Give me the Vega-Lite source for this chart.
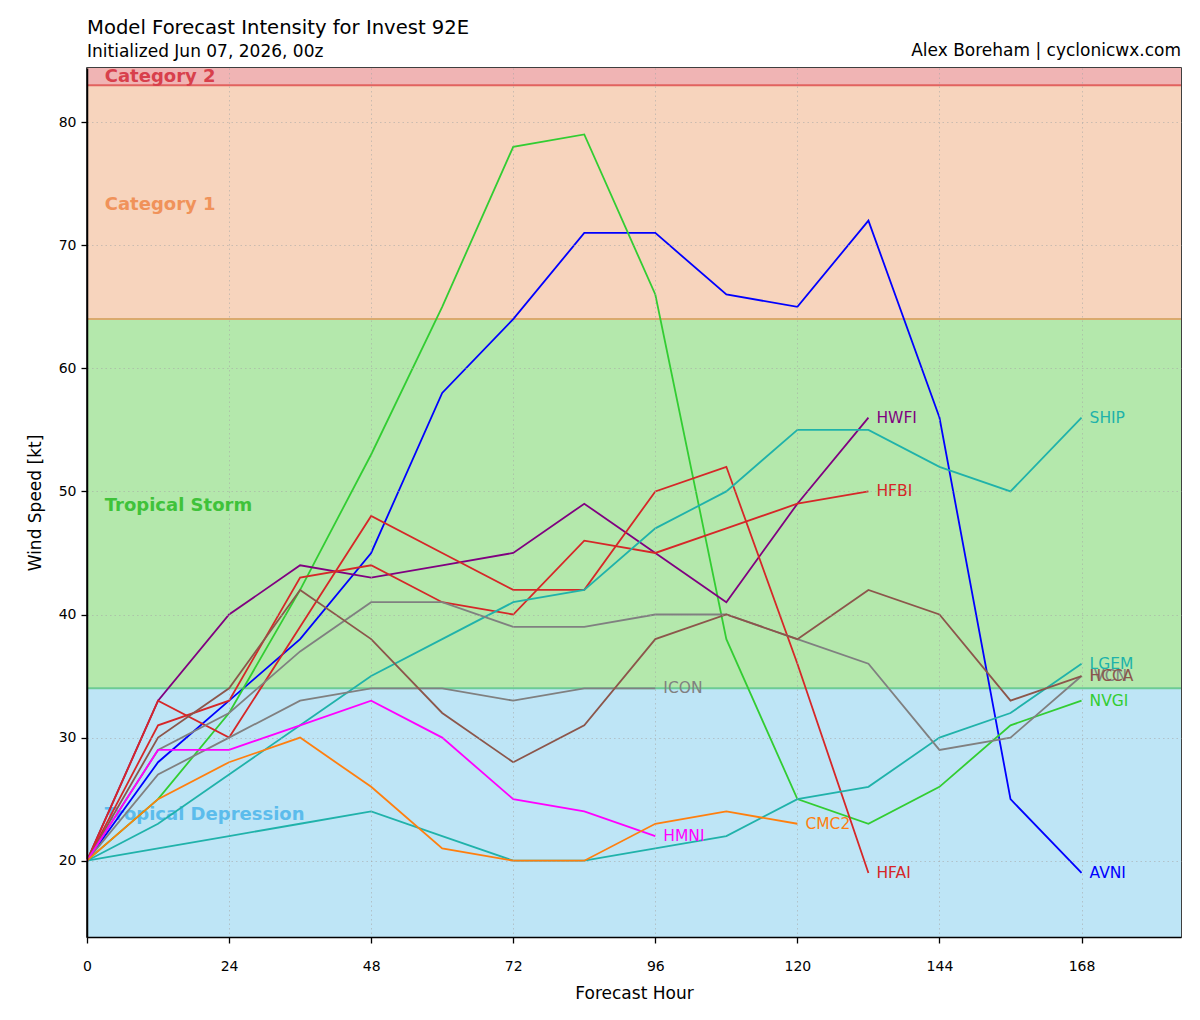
{
  "$schema": "https://vega.github.io/schema/vega-lite/v6.json",
  "width": 1094,
  "height": 869,
  "autosize": {"type": "none"},
  "padding": {"left": 87, "top": 68, "right": 19, "bottom": 83},
  "background": "white",
  "title": {
    "text": "Model Forecast Intensity for Invest 92E",
    "subtitle": "Initialized Jun 07, 2026, 00z",
    "anchor": "start",
    "frame": "group",
    "font": "DejaVu Sans",
    "fontSize": 19.6,
    "fontWeight": "normal",
    "color": "black",
    "subtitleFont": "DejaVu Sans",
    "subtitleFontSize": 17,
    "subtitleColor": "black",
    "subtitlePadding": 5,
    "offset": -19
  },
  "datasets": {
    "bands": [
      {"band": "Tropical Depression", "lo": 0, "hi": 34, "lx": 3, "ly": 23.7},
      {"band": "Tropical Storm", "lo": 34, "hi": 64, "lx": 3, "ly": 48.8},
      {"band": "Category 1", "lo": 64, "hi": 83, "lx": 3, "ly": 73.3},
      {"band": "Category 2", "lo": 83, "hi": 96, "lx": 3, "ly": 83.7}
    ],
    "forecasts": [
      {"model": "AVNI", "hour": 0, "vmax": 20}, {"model": "AVNI", "hour": 12, "vmax": 28}, {"model": "AVNI", "hour": 24, "vmax": 33},
      {"model": "AVNI", "hour": 36, "vmax": 38}, {"model": "AVNI", "hour": 48, "vmax": 45}, {"model": "AVNI", "hour": 60, "vmax": 58},
      {"model": "AVNI", "hour": 72, "vmax": 64}, {"model": "AVNI", "hour": 84, "vmax": 71}, {"model": "AVNI", "hour": 96, "vmax": 71},
      {"model": "AVNI", "hour": 108, "vmax": 66}, {"model": "AVNI", "hour": 120, "vmax": 65}, {"model": "AVNI", "hour": 132, "vmax": 72},
      {"model": "AVNI", "hour": 144, "vmax": 56}, {"model": "AVNI", "hour": 156, "vmax": 25}, {"model": "AVNI", "hour": 168, "vmax": 19},

      {"model": "NVGI", "hour": 0, "vmax": 20}, {"model": "NVGI", "hour": 12, "vmax": 25}, {"model": "NVGI", "hour": 24, "vmax": 32},
      {"model": "NVGI", "hour": 36, "vmax": 42}, {"model": "NVGI", "hour": 48, "vmax": 53}, {"model": "NVGI", "hour": 60, "vmax": 65},
      {"model": "NVGI", "hour": 72, "vmax": 78}, {"model": "NVGI", "hour": 84, "vmax": 79}, {"model": "NVGI", "hour": 96, "vmax": 66},
      {"model": "NVGI", "hour": 108, "vmax": 38}, {"model": "NVGI", "hour": 120, "vmax": 25}, {"model": "NVGI", "hour": 132, "vmax": 23},
      {"model": "NVGI", "hour": 144, "vmax": 26}, {"model": "NVGI", "hour": 156, "vmax": 31}, {"model": "NVGI", "hour": 168, "vmax": 33},

      {"model": "HWFI", "hour": 0, "vmax": 20}, {"model": "HWFI", "hour": 12, "vmax": 33}, {"model": "HWFI", "hour": 24, "vmax": 40},
      {"model": "HWFI", "hour": 36, "vmax": 44}, {"model": "HWFI", "hour": 48, "vmax": 43}, {"model": "HWFI", "hour": 60, "vmax": 44},
      {"model": "HWFI", "hour": 72, "vmax": 45}, {"model": "HWFI", "hour": 84, "vmax": 49}, {"model": "HWFI", "hour": 96, "vmax": 45},
      {"model": "HWFI", "hour": 108, "vmax": 41}, {"model": "HWFI", "hour": 120, "vmax": 49}, {"model": "HWFI", "hour": 132, "vmax": 56},

      {"model": "HFBI", "hour": 0, "vmax": 20}, {"model": "HFBI", "hour": 12, "vmax": 31}, {"model": "HFBI", "hour": 24, "vmax": 33},
      {"model": "HFBI", "hour": 36, "vmax": 43}, {"model": "HFBI", "hour": 48, "vmax": 44}, {"model": "HFBI", "hour": 60, "vmax": 41},
      {"model": "HFBI", "hour": 72, "vmax": 40}, {"model": "HFBI", "hour": 84, "vmax": 46}, {"model": "HFBI", "hour": 96, "vmax": 45},
      {"model": "HFBI", "hour": 108, "vmax": 47}, {"model": "HFBI", "hour": 120, "vmax": 49}, {"model": "HFBI", "hour": 132, "vmax": 50},

      {"model": "HFAI", "hour": 0, "vmax": 20}, {"model": "HFAI", "hour": 12, "vmax": 33}, {"model": "HFAI", "hour": 24, "vmax": 30},
      {"model": "HFAI", "hour": 36, "vmax": 39}, {"model": "HFAI", "hour": 48, "vmax": 48}, {"model": "HFAI", "hour": 60, "vmax": 45},
      {"model": "HFAI", "hour": 72, "vmax": 42}, {"model": "HFAI", "hour": 84, "vmax": 42}, {"model": "HFAI", "hour": 96, "vmax": 50},
      {"model": "HFAI", "hour": 108, "vmax": 52}, {"model": "HFAI", "hour": 120, "vmax": 36}, {"model": "HFAI", "hour": 132, "vmax": 19},

      {"model": "SHIP", "hour": 0, "vmax": 20}, {"model": "SHIP", "hour": 12, "vmax": 23}, {"model": "SHIP", "hour": 24, "vmax": 27},
      {"model": "SHIP", "hour": 36, "vmax": 31}, {"model": "SHIP", "hour": 48, "vmax": 35}, {"model": "SHIP", "hour": 60, "vmax": 38},
      {"model": "SHIP", "hour": 72, "vmax": 41}, {"model": "SHIP", "hour": 84, "vmax": 42}, {"model": "SHIP", "hour": 96, "vmax": 47},
      {"model": "SHIP", "hour": 108, "vmax": 50}, {"model": "SHIP", "hour": 120, "vmax": 55}, {"model": "SHIP", "hour": 132, "vmax": 55},
      {"model": "SHIP", "hour": 144, "vmax": 52}, {"model": "SHIP", "hour": 156, "vmax": 50}, {"model": "SHIP", "hour": 168, "vmax": 56},

      {"model": "LGEM", "hour": 0, "vmax": 20}, {"model": "LGEM", "hour": 12, "vmax": 21}, {"model": "LGEM", "hour": 24, "vmax": 22},
      {"model": "LGEM", "hour": 36, "vmax": 23}, {"model": "LGEM", "hour": 48, "vmax": 24}, {"model": "LGEM", "hour": 60, "vmax": 22},
      {"model": "LGEM", "hour": 72, "vmax": 20}, {"model": "LGEM", "hour": 84, "vmax": 20}, {"model": "LGEM", "hour": 96, "vmax": 21},
      {"model": "LGEM", "hour": 108, "vmax": 22}, {"model": "LGEM", "hour": 120, "vmax": 25}, {"model": "LGEM", "hour": 132, "vmax": 26},
      {"model": "LGEM", "hour": 144, "vmax": 30}, {"model": "LGEM", "hour": 156, "vmax": 32}, {"model": "LGEM", "hour": 168, "vmax": 36},

      {"model": "IVCN", "hour": 0, "vmax": 20}, {"model": "IVCN", "hour": 12, "vmax": 29}, {"model": "IVCN", "hour": 24, "vmax": 32},
      {"model": "IVCN", "hour": 36, "vmax": 37}, {"model": "IVCN", "hour": 48, "vmax": 41}, {"model": "IVCN", "hour": 60, "vmax": 41},
      {"model": "IVCN", "hour": 72, "vmax": 39}, {"model": "IVCN", "hour": 84, "vmax": 39}, {"model": "IVCN", "hour": 96, "vmax": 40},
      {"model": "IVCN", "hour": 108, "vmax": 40}, {"model": "IVCN", "hour": 120, "vmax": 38}, {"model": "IVCN", "hour": 132, "vmax": 36},
      {"model": "IVCN", "hour": 144, "vmax": 29}, {"model": "IVCN", "hour": 156, "vmax": 30}, {"model": "IVCN", "hour": 168, "vmax": 35},

      {"model": "ICON", "hour": 0, "vmax": 20}, {"model": "ICON", "hour": 12, "vmax": 27}, {"model": "ICON", "hour": 24, "vmax": 30},
      {"model": "ICON", "hour": 36, "vmax": 33}, {"model": "ICON", "hour": 48, "vmax": 34}, {"model": "ICON", "hour": 60, "vmax": 34},
      {"model": "ICON", "hour": 72, "vmax": 33}, {"model": "ICON", "hour": 84, "vmax": 34}, {"model": "ICON", "hour": 96, "vmax": 34},

      {"model": "HCCA", "hour": 0, "vmax": 20}, {"model": "HCCA", "hour": 12, "vmax": 30}, {"model": "HCCA", "hour": 24, "vmax": 34},
      {"model": "HCCA", "hour": 36, "vmax": 42}, {"model": "HCCA", "hour": 48, "vmax": 38}, {"model": "HCCA", "hour": 60, "vmax": 32},
      {"model": "HCCA", "hour": 72, "vmax": 28}, {"model": "HCCA", "hour": 84, "vmax": 31}, {"model": "HCCA", "hour": 96, "vmax": 38},
      {"model": "HCCA", "hour": 108, "vmax": 40}, {"model": "HCCA", "hour": 120, "vmax": 38}, {"model": "HCCA", "hour": 132, "vmax": 42},
      {"model": "HCCA", "hour": 144, "vmax": 40}, {"model": "HCCA", "hour": 156, "vmax": 33}, {"model": "HCCA", "hour": 168, "vmax": 35},

      {"model": "HMNI", "hour": 0, "vmax": 20}, {"model": "HMNI", "hour": 12, "vmax": 29}, {"model": "HMNI", "hour": 24, "vmax": 29},
      {"model": "HMNI", "hour": 36, "vmax": 31}, {"model": "HMNI", "hour": 48, "vmax": 33}, {"model": "HMNI", "hour": 60, "vmax": 30},
      {"model": "HMNI", "hour": 72, "vmax": 25}, {"model": "HMNI", "hour": 84, "vmax": 24}, {"model": "HMNI", "hour": 96, "vmax": 22},

      {"model": "CMC2", "hour": 0, "vmax": 20}, {"model": "CMC2", "hour": 12, "vmax": 25}, {"model": "CMC2", "hour": 24, "vmax": 28},
      {"model": "CMC2", "hour": 36, "vmax": 30}, {"model": "CMC2", "hour": 48, "vmax": 26}, {"model": "CMC2", "hour": 60, "vmax": 21},
      {"model": "CMC2", "hour": 72, "vmax": 20}, {"model": "CMC2", "hour": 84, "vmax": 20}, {"model": "CMC2", "hour": 96, "vmax": 23},
      {"model": "CMC2", "hour": 108, "vmax": 24}, {"model": "CMC2", "hour": 120, "vmax": 23}
    ]
  },
  "layer": [
    {
      "data": {"name": "bands"},
      "mark": {"type": "rect", "clip": true},
      "encoding": {
        "y": {
          "field": "lo", "type": "quantitative", "title": "Wind Speed [kt]",
          "scale": {"domain": [13.8, 84.4], "nice": false, "zero": false},
          "axis": {
            "orient": "left", "values": [20, 30, 40, 50, 60, 70, 80], "titlePadding": 14,
            "grid": true, "ticks": true, "domain": true,
            "tickColor": "black", "tickSize": 6, "tickWidth": 1.3, "tickOpacity": 1,
            "gridColor": "#a6a6a6", "gridDash": [1.5, 3], "gridOpacity": 0.55, "gridWidth": 1,
            "zindex": 1
          }
        },
        "y2": {"field": "hi"},
        "fill": {
          "field": "band", "type": "nominal", "legend": null,
          "scale": {
            "domain": ["Tropical Depression", "Tropical Storm", "Category 1", "Category 2"],
            "range": ["#bee5f6", "#b4e8ac", "#f7d4bd", "#f0b4b4"]
          }
        }
      }
    },
    {
      "data": {"name": "bands"},
      "transform": [{"filter": "datum.lo > 0"}],
      "mark": {"type": "rule", "strokeWidth": 2, "clip": true},
      "encoding": {
        "y": {"field": "lo", "type": "quantitative", "title": "Wind Speed [kt]", "scale": {"domain": [13.8, 84.4], "nice": false, "zero": false}},
        "stroke": {
          "field": "band", "type": "nominal", "legend": null,
          "scale": {
            "domain": ["Tropical Storm", "Category 1", "Category 2"],
            "range": ["#6ccb94", "#d9aa6e", "#e2625f"]
          }
        }
      }
    },
    {
      "data": {"name": "bands"},
      "mark": {"type": "text", "align": "left", "baseline": "middle", "fontSize": 18, "fontWeight": "bold", "font": "DejaVu Sans"},
      "encoding": {
        "x": {
          "field": "lx", "type": "quantitative", "title": "Forecast Hour",
          "scale": {"domain": [0, 184.8], "nice": false, "zero": false},
          "axis": {
            "orient": "bottom", "values": [0, 24, 48, 72, 96, 120, 144, 168], "labelPadding": 16, "titlePadding": 12,
            "grid": true, "ticks": true, "domain": true,
            "tickColor": "black", "tickSize": 6, "tickWidth": 1.3, "tickOpacity": 1,
            "gridColor": "#a6a6a6", "gridDash": [1.5, 3], "gridOpacity": 0.55, "gridWidth": 1,
            "zindex": 1
          }
        },
        "y": {"field": "ly", "type": "quantitative", "title": "Wind Speed [kt]", "scale": {"domain": [13.8, 84.4], "nice": false, "zero": false}},
        "text": {"field": "band"},
        "color": {
          "field": "band", "type": "nominal", "legend": null,
          "scale": {
            "domain": ["Tropical Depression", "Tropical Storm", "Category 1", "Category 2"],
            "range": ["#5cbcec", "#3fc23a", "#f0925a", "#d8404c"]
          }
        }
      }
    },
    {
      "data": {"name": "forecasts"},
      "mark": {"type": "line", "strokeWidth": 1.8},
      "encoding": {
        "x": {"field": "hour", "type": "quantitative", "title": "Forecast Hour", "scale": {"domain": [0, 184.8], "nice": false, "zero": false}},
        "y": {"field": "vmax", "type": "quantitative", "title": "Wind Speed [kt]", "scale": {"domain": [13.8, 84.4], "nice": false, "zero": false}},
        "color": {
          "field": "model", "type": "nominal", "legend": null,
          "scale": {
            "domain": ["AVNI", "NVGI", "HWFI", "HFBI", "HFAI", "SHIP", "LGEM", "IVCN", "ICON", "HCCA", "HMNI", "CMC2"],
            "range": ["#0000ff", "#32cd32", "#800080", "#d62728", "#d62728", "#20b2aa", "#20b2aa", "#808080", "#808080", "#8c564b", "#ff00ff", "#ff7f0e"]
          }
        },
        "detail": {"field": "model"}
      }
    },
    {
      "data": {"name": "forecasts"},
      "transform": [
        {"joinaggregate": [{"op": "max", "field": "hour", "as": "last"}], "groupby": ["model"]},
        {"filter": "datum.hour == datum.last"}
      ],
      "mark": {"type": "text", "align": "left", "baseline": "middle", "dx": 8, "fontSize": 15.5, "font": "DejaVu Sans"},
      "encoding": {
        "x": {"field": "hour", "type": "quantitative", "title": "Forecast Hour", "scale": {"domain": [0, 184.8], "nice": false, "zero": false}},
        "y": {"field": "vmax", "type": "quantitative", "title": "Wind Speed [kt]", "scale": {"domain": [13.8, 84.4], "nice": false, "zero": false}},
        "text": {"field": "model"},
        "color": {
          "field": "model", "type": "nominal", "legend": null,
          "scale": {
            "domain": ["AVNI", "NVGI", "HWFI", "HFBI", "HFAI", "SHIP", "LGEM", "IVCN", "ICON", "HCCA", "HMNI", "CMC2"],
            "range": ["#0000ff", "#32cd32", "#800080", "#d62728", "#d62728", "#20b2aa", "#20b2aa", "#808080", "#808080", "#8c564b", "#ff00ff", "#ff7f0e"]
          }
        }
      }
    },
    {
      "data": {"values": [{"credit": "Alex Boreham | cyclonicwx.com"}]},
      "mark": {"type": "text", "align": "right", "baseline": "alphabetic", "dy": -12, "fontSize": 17, "font": "DejaVu Sans", "color": "black"},
      "encoding": {
        "x": {"datum": 184.8, "type": "quantitative", "title": "Forecast Hour", "scale": {"domain": [0, 184.8], "nice": false, "zero": false}},
        "y": {"datum": 84.4, "type": "quantitative", "title": "Wind Speed [kt]", "scale": {"domain": [13.8, 84.4], "nice": false, "zero": false}},
        "text": {"field": "credit"}
      }
    }
  ],
  "resolve": {
    "scale": {"color": "independent", "fill": "independent", "stroke": "independent"}
  },
  "config": {
    "font": "DejaVu Sans",
    "view": {"stroke": "black", "strokeWidth": 1.5},
    "axis": {
      "domainColor": "black",
      "domainWidth": 1.5,
      "labelFontSize": 14,
      "labelColor": "black",
      "labelPadding": 5,
      "labelFlush": false,
      "titleFontSize": 17,
      "titleFontWeight": "normal",
      "titleColor": "black",
      "titlePadding": 10
    }
  }
}
